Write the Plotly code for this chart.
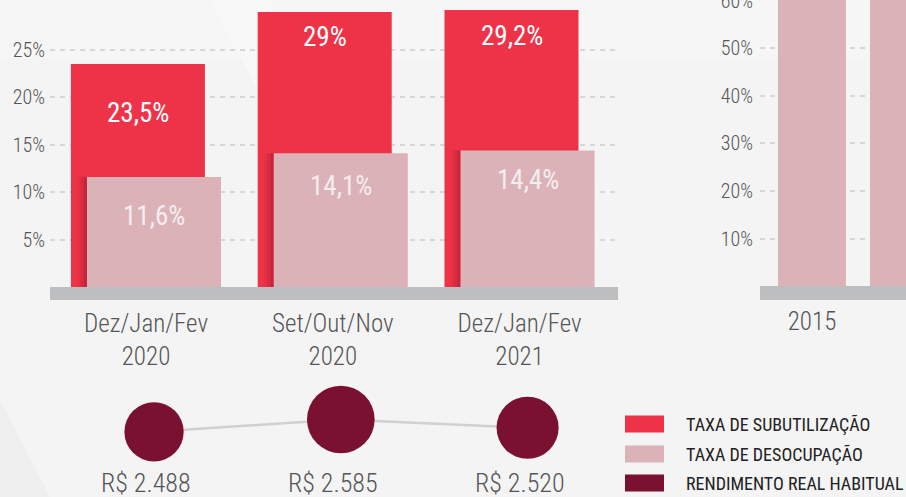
import plotly.graph_objects as go

# ---------------- data ----------------
periodos = ["Dez/Jan/Fev<br>2020", "Set/Out/Nov<br>2020", "Dez/Jan/Fev<br>2021"]
subutilizacao = [23.5, 29.0, 29.2]
desocupacao = [11.6, 14.1, 14.4]
rendimento = [2488, 2585, 2520]
sub_labels = ["23,5%", "29%", "29,2%"]
des_labels = ["11,6%", "14,1%", "14,4%"]
rend_labels = ["R$ 2.488", "R$ 2.585", "R$ 2.520"]
left_ticks = [5, 10, 15, 20, 25]

anos = ["2015", "2016"]
anos_vals = [68, 66]
right_ticks = [10, 20, 30, 40, 50, 60]

legend_items = ["TAXA DE SUBUTILIZAÇÃO", "TAXA DE DESOCUPAÇÃO", "RENDIMENTO REAL HABITUAL"]

# ---------------- style ----------------
W, H = 906, 497
RED = "#ee3348"
PINK = "#dcb2b9"
MAROON = "#7b1130"
BASE = "#bdbec0"
TXT = "#555555"
FONT = "Roboto Condensed, Liberation Sans Narrow, Arial Narrow, DejaVu Sans Condensed, sans-serif"


def px(x):
    return x / W


def py(y):
    return 1 - y / H


bar_w = 0.7175
red_off = -0.402
pink_off = -0.316
red_lbl_shift = [49, 25, 26]
pink_lbl_shift = [39, 33, 30]

xs = list(range(len(periodos)))
fig = go.Figure()

# red bars
fig.add_trace(go.Bar(x=xs, y=subutilizacao, width=bar_w, offset=red_off,
                     marker=dict(color=RED, line=dict(width=0)), xaxis="x", yaxis="y",
                     hoverinfo="skip"))
# shadow cast by pink bars
for k, a in enumerate([0.32, 0.18, 0.08]):
    fig.add_trace(go.Bar(x=xs, y=desocupacao, width=0.017, offset=pink_off - 0.017 * (k + 1),
                         marker=dict(color=f"rgba(110,10,30,{a})", line=dict(width=0)),
                         xaxis="x", yaxis="y", hoverinfo="skip"))
# pink bars
fig.add_trace(go.Bar(x=xs, y=desocupacao, width=bar_w, offset=pink_off,
                     marker=dict(color=PINK, line=dict(width=0)), xaxis="x", yaxis="y",
                     hoverinfo="skip"))

# right chart bars
fig.add_trace(go.Bar(x=list(range(len(anos))), y=anos_vals, width=0.739,
                     marker=dict(color=PINK, line=dict(width=0)), xaxis="x2", yaxis="y2",
                     hoverinfo="skip"))

# rendimento circles
sizes = [63 + 0.086 * (v - 2531) for v in rendimento]
fig.add_trace(go.Scatter(x=[i + 0.043 for i in xs], y=rendimento, mode="lines+markers",
                         line=dict(color="#d0d0d0", width=2.5),
                         marker=dict(size=sizes, color=MAROON, opacity=1, line=dict(width=0)),
                         xaxis="x", yaxis="y3", cliponaxis=False, hoverinfo="skip"))

LIGHT = dict(family=FONT, color=TXT, weight=300)

annotations = []
for i in xs:
    annotations.append(dict(x=i - 0.043, y=subutilizacao[i], xref="x", yref="y",
                            text=sub_labels[i], showarrow=False, yshift=-red_lbl_shift[i],
                            yanchor="middle",
                            font=dict(family=FONT, size=27, color="white")))
    annotations.append(dict(x=i + 0.043, y=desocupacao[i], xref="x", yref="y",
                            text=des_labels[i], showarrow=False, yshift=-pink_lbl_shift[i],
                            yanchor="middle",
                            font=dict(family=FONT, size=27, color="#f3eef0")))
    annotations.append(dict(x=i, y=py(483), xref="x", yref="paper", text=rend_labels[i],
                            showarrow=False, yanchor="middle",
                            font=dict(LIGHT, size=26)))

shapes = [
    # background facets
    dict(type="rect", xref="paper", yref="paper", x0=0, x1=1, y0=py(58), y1=1,
         fillcolor="#f6f6f6", line=dict(width=0), layer="below"),
    dict(type="path", xref="paper", yref="paper",
         path=f"M {px(210)} {py(0)} L {px(272)} {py(0)} L {px(258)} {py(90)} Z",
         fillcolor="#f8f8f8", line=dict(width=0), layer="below"),
    dict(type="path", xref="paper", yref="paper",
         path=f"M {px(0)} {py(400)} L {px(50)} {py(497)} L {px(0)} {py(497)} Z",
         fillcolor="#efefef", line=dict(width=0), layer="below"),
    # baselines
    dict(type="rect", xref="x domain", yref="y", x0=0, x1=1, y0=-1.37, y1=0,
         fillcolor=BASE, line=dict(width=0), layer="above"),
    dict(type="rect", xref="x2 domain", yref="y2", x0=0, x1=1, y0=-2.93, y1=0,
         fillcolor=BASE, line=dict(width=0), layer="above"),
]

leg_y = [424, 454, 483]
for i, name in enumerate(legend_items):
    col = [RED, PINK, MAROON][i]
    shapes.append(dict(type="rect", xref="paper", yref="paper", x0=px(625), x1=px(664),
                       y0=py(leg_y[i] + 8.5), y1=py(leg_y[i] - 8.5), fillcolor=col,
                       line=dict(width=0)))
    annotations.append(dict(x=px(684), y=py(leg_y[i]), xref="paper", yref="paper",
                            text=name, showarrow=False, xanchor="left", yanchor="middle",
                            font=dict(family=FONT, size=18, color="#222222")))

grid = dict(showgrid=True, gridcolor="#d6d6d6", gridwidth=1.5, griddash="5px,5px",
            zeroline=False, showline=False, ticks="", automargin=False)

fig.update_layout(
    width=W, height=H, autosize=False,
    margin=dict(l=0, r=0, t=0, b=0, pad=0),
    paper_bgcolor="#f4f4f4", plot_bgcolor="rgba(0,0,0,0)",
    barmode="overlay", showlegend=False,
    font=dict(family=FONT, color=TXT),
    xaxis=dict(domain=[px(50), px(618)], range=[-0.514, 2.527], anchor="y",
               tickvals=xs, ticktext=periodos, ticks="", showgrid=False, zeroline=False,
               showline=False, tickfont=dict(LIGHT, size=25), automargin=False,
               ticklabelstandoff=6),
    yaxis=dict(domain=[py(300), 1], range=[-1.37, 30.26], anchor="x",
               tickvals=left_ticks, ticktext=[f"{t}%" for t in left_ticks],
               tickfont=dict(LIGHT, size=20), ticklabelstandoff=4, **grid),
    xaxis2=dict(domain=[px(760), 1], range=[-0.565, 1.022], anchor="y2",
                tickvals=list(range(len(anos))), ticktext=anos, ticks="", showgrid=False,
                zeroline=False, showline=False, automargin=False,
                tickfont=dict(LIGHT, size=25), ticklabelstandoff=4),
    yaxis2=dict(domain=[py(300), 1], range=[-2.93, 60.15], anchor="x2",
                tickvals=right_ticks, ticktext=[f"{t}%" for t in right_ticks],
                tickfont=dict(LIGHT, size=20), ticklabelstandoff=6,
                ticklabeloverflow="allow", **grid),
    yaxis3=dict(domain=[0, py(380)], range=[1976.7, 2894.4], anchor="x", visible=False,
                automargin=False),
    shapes=shapes, annotations=annotations,
)

fig.write_html("out.html", config={"displayModeBar": False},
               post_script="document.body.style.margin='0px';document.body.style.overflow='hidden';")
